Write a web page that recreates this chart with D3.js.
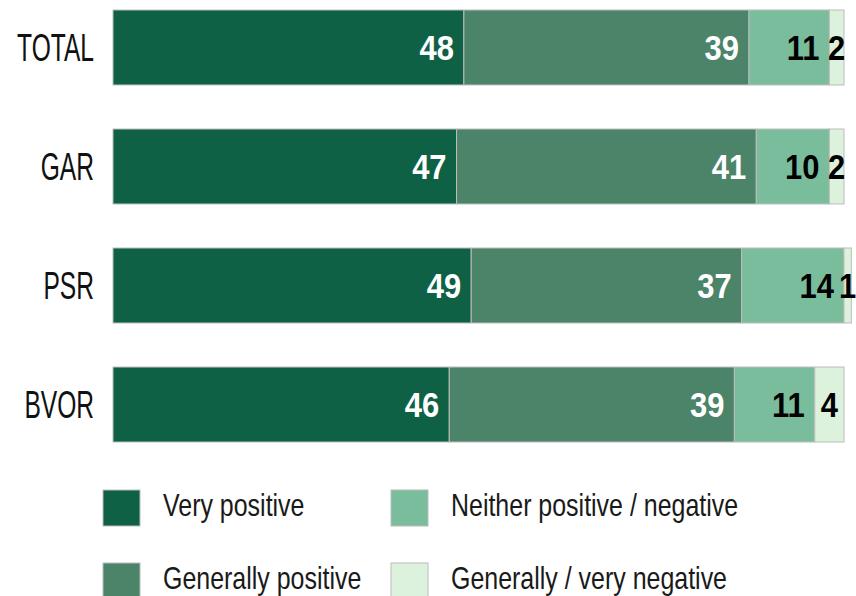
<!DOCTYPE html>
<html>
<head>
<meta charset="utf-8">
<script src="https://cdn.jsdelivr.net/npm/d3@7"></script>
<style>
  body { margin: 0; background: #fff; }
  svg { display: block; }
</style>
</head>
<body>
<div id="chart"></div>
<script>
const categories = ["TOTAL", "GAR", "PSR", "BVOR"];
const seriesNames = ["Very positive", "Generally positive", "Neither positive / negative", "Generally / very negative"];
const veryPositive = [48, 47, 49, 46];
const generallyPositive = [39, 41, 37, 39];
const neither = [11, 10, 14, 11];
const negative = [2, 2, 1, 4];
const colors = ["#0f6145", "#4b8468", "#79bd9c", "#dcf2dc"];

const width = 856, height = 596;
const font = "'Liberation Sans', Arial, sans-serif";
const svg = d3.select("#chart").append("svg")
  .attr("width", width)
  .attr("height", height);

const rows = categories.map((c, i) => ({
  cat: c,
  vals: [veryPositive[i], generallyPositive[i], neither[i], negative[i]]
}));

const x = d3.scaleLinear().domain([0, 100]).range([113, 844]);
const y = d3.scaleBand().domain(categories).range([10, 442]).paddingInner(0.37).paddingOuter(0);

const stacked = d3.stack().keys([0, 1, 2, 3]).value((d, k) => d.vals[k])(rows);

const layers = svg.append("g").selectAll("g")
  .data(stacked)
  .join("g")
  .attr("fill", (d, i) => colors[i]);

layers.selectAll("rect")
  .data(d => d)
  .join("rect")
  .attr("x", d => x(d[0]))
  .attr("y", d => y(d.data.cat))
  .attr("width", d => x(d[1]) - x(d[0]))
  .attr("height", y.bandwidth())
  .attr("stroke", "#bcbcbc")
  .attr("stroke-width", 1);

// value labels (condensed look via horizontal scale)
layers.each(function (layer, i) {
  d3.select(this).selectAll("text")
    .data(layer)
    .join("text")
    .attr("transform", d => {
      const tx = i === 3 ? (x(d[0]) + x(d[1])) / 2 : x(d[1]) - 10;
      return `translate(${tx},${y(d.data.cat) + y.bandwidth() / 2}) scale(0.86,1)`;
    })
    .attr("dy", "0.36em")
    .attr("text-anchor", i === 3 ? "middle" : "end")
    .attr("font-family", font)
    .attr("font-weight", "bold")
    .attr("font-size", 36)
    .attr("fill", i < 2 ? "#fff" : "#000")
    .text(d => d[1] - d[0]);
});

// category labels
svg.append("g").selectAll("text")
  .data(categories)
  .join("text")
  .attr("transform", d => `translate(94,${y(d) + y.bandwidth() / 2}) scale(0.63,1)`)
  .attr("dy", "0.34em")
  .attr("text-anchor", "end")
  .attr("font-family", font)
  .attr("font-size", 39)
  .attr("fill", "#111")
  .text(d => d);

// legend
const legendPos = [[103, 490], [103, 563], [391, 490], [391, 563]];
const legend = svg.append("g").selectAll("g")
  .data(seriesNames)
  .join("g")
  .attr("transform", (d, i) => `translate(${legendPos[i][0]},${legendPos[i][1]})`);

legend.append("rect")
  .attr("width", 37)
  .attr("height", 36)
  .attr("fill", (d, i) => colors[i])
  .attr("stroke", "#bcbcbc");

legend.append("text")
  .attr("transform", "translate(60,14) scale(0.78,1)")
  .attr("dy", "0.36em")
  .attr("font-family", font)
  .attr("font-size", 32)
  .attr("fill", "#1a1a1a")
  .text(d => d);
</script>
</body>
</html>
